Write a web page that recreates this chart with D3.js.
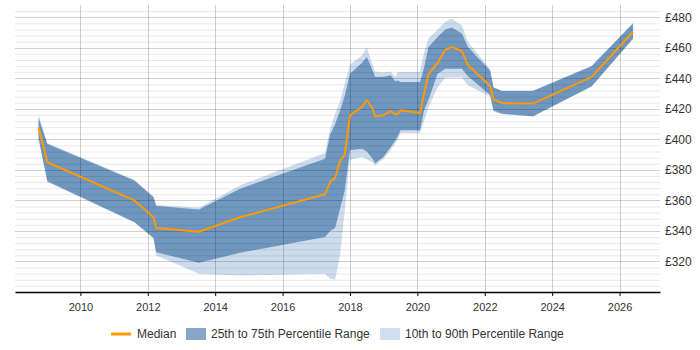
<!DOCTYPE html>
<html>
<head>
<meta charset="utf-8">
<script src="https://cdn.jsdelivr.net/npm/d3@7"></script>
<style>
  body { margin: 0; background: #fff; }
  text { font-family: "Liberation Sans", Arial, sans-serif; }
</style>
</head>
<body>
<div id="chart"></div>
<script>
// decimal years of each sample
const years = [2008.76, 2009.02, 2011.6, 2012.17, 2012.25, 2013.52, 2014.74, 2017.26, 2017.41, 2017.56,
  2017.71, 2017.84, 2018.0, 2018.35, 2018.5, 2018.65, 2018.75, 2018.99, 2019.21, 2019.34,
  2019.42, 2019.5, 2020.08, 2020.2, 2020.33, 2020.6, 2020.83, 2021.02, 2021.32, 2021.5,
  2022.16, 2022.26, 2022.51, 2023.43, 2025.17, 2026.4]
const p10 = [400, 372, 345.5, 335, 323.9, 311.9, 310.8, 312, 308.7, 308,
  325, 352, 386.7, 388.4, 387, 385, 383, 387, 393, 397,
  400, 404.1, 404.1, 412, 421, 434, 440.5, 440.5, 440.5, 435.4,
  428, 418, 416.5, 415, 434.5, 465.5]
const p25 = [400.5, 372.5, 345.8, 335.5, 326, 319.1, 325.7, 336, 340, 342,
  355, 366, 392.8, 393.9, 392, 388, 384.3, 388.5, 395, 399,
  402, 405.9, 405.9, 419, 426, 443, 446.3, 446.3, 446.3, 441.3,
  429, 419, 416.8, 415.1, 434.8, 466]
const median = [407.7, 385, 360, 349, 342, 339.5, 349, 364, 372, 374.9,
  386.2, 389.5, 415.7, 421.2, 425.6, 421.2, 415.1, 415.7, 418.6, 416.4,
  416.4, 419, 417.3, 430, 442.8, 450, 458.8, 460.5, 457.9, 448.5,
  435, 426, 423.8, 423.4, 440.9, 470.5]
const p75 = [414, 397, 373, 362, 356.3, 354.1, 367.7, 387.3, 403, 410,
  419, 428, 443, 450, 454, 446.3, 440.9, 441, 442, 438,
  438.5, 437.6, 437.6, 447, 460.5, 467, 472, 473.2, 469.3, 460.5,
  445, 433.9, 431.7, 431.7, 447.9, 475.9]
const p90 = [416, 397.6, 373.5, 362.5, 357, 355.2, 370, 391, 407, 417,
  425, 436, 449, 455, 460, 450, 444.5, 444, 444.5, 441,
  444, 444.1, 444.1, 457, 466, 472, 477, 479, 474.8, 464,
  446, 434, 432, 432, 448.2, 476.3]

const xTicks = [2010, 2012, 2014, 2016, 2018, 2020, 2022, 2024, 2026]
const yTicks = [320, 340, 360, 380, 400, 420, 440, 460, 480]
const legendLabels = ['Median', '25th to 75th Percentile Range', '10th to 90th Percentile Range']

const width = 700
const height = 350
const margin = { top: 5, right: 40, bottom: 58, left: 15 }

const rows = years.map((yr, i) => ({
  yr, p10: p10[i], p25: p25[i], med: median[i], p75: p75[i], p90: p90[i]
}))

const svg = d3.select('#chart')
  .append('svg')
  .attr('width', width)
  .attr('height', height)

const x = d3.scaleLinear()
  .domain([2008.06, 2027.2])
  .range([margin.left, width - margin.right])

const y = d3.scaleLinear()
  .domain([300, 488])
  .range([height - margin.bottom, margin.top])

const outer = d3.area()
  .x(d => x(d.yr))
  .y0(d => y(d.p10))
  .y1(d => y(d.p90))

const inner = d3.area()
  .x(d => x(d.yr))
  .y0(d => y(d.p25))
  .y1(d => y(d.p75))

const line = d3.line()
  .x(d => x(d.yr))
  .y(d => y(d.med))

svg.append('path')
  .datum(rows)
  .attr('d', outer)
  .attr('fill', '#cddcec')

svg.append('path')
  .datum(rows)
  .attr('d', inner)
  .attr('fill', '#7097c0')

// grid on top, translucent so it shows through the bands
const minor = d3.range(304, 488, 4).filter(v => v % 20 !== 0)
svg.append('g')
  .selectAll('line')
  .data(minor)
  .join('line')
  .attr('x1', margin.left)
  .attr('x2', width - margin.right)
  .attr('y1', d => y(d) + 0.5)
  .attr('y2', d => y(d) + 0.5)
  .attr('stroke', 'rgba(0,0,0,0.09)')

svg.append('g')
  .selectAll('line')
  .data(yTicks)
  .join('line')
  .attr('x1', margin.left)
  .attr('x2', width - margin.right)
  .attr('y1', d => Math.round(y(d)) + 0.5)
  .attr('y2', d => Math.round(y(d)) + 0.5)
  .attr('stroke', 'rgba(0,0,0,0.19)')

svg.append('g')
  .selectAll('line')
  .data(xTicks)
  .join('line')
  .attr('x1', d => Math.round(x(d)) + 0.5)
  .attr('x2', d => Math.round(x(d)) + 0.5)
  .attr('y1', margin.top)
  .attr('y2', height - margin.bottom)
  .attr('stroke', 'rgba(0,0,0,0.19)')

svg.append('path')
  .datum(rows)
  .attr('d', line)
  .attr('fill', 'none')
  .attr('stroke', '#ff9900')
  .attr('stroke-width', 2)
  .attr('stroke-linejoin', 'round')

const xAxis = svg.append('g')
  .attr('transform', `translate(0,${height - margin.bottom})`)
  .call(d3.axisBottom(x).tickValues(xTicks).tickFormat(d3.format('d')).tickSize(4).tickSizeOuter(0))
xAxis.select('.domain').attr('stroke', '#000').attr('stroke-width', 1.5)
xAxis.selectAll('.tick line').attr('stroke', '#000')
xAxis.selectAll('text').attr('font-size', 11).attr('fill', '#333').attr('dy', '1.1em')

const yAxis = svg.append('g')
  .attr('transform', `translate(${width - margin.right},0)`)
  .call(d3.axisRight(y).tickValues(yTicks).tickFormat(d => '£' + d).tickSize(0).tickPadding(5))
yAxis.select('.domain').remove()
yAxis.selectAll('text').attr('font-size', 12).attr('fill', '#333')

// legend
const legend = svg.append('g').attr('transform', 'translate(0,334)')
legend.append('line')
  .attr('x1', 111).attr('x2', 131)
  .attr('stroke', '#ff9900').attr('stroke-width', 3)
legend.append('text').attr('x', 137).attr('dy', '0.35em').attr('font-size', 12).attr('fill', '#333').text(legendLabels[0])
legend.append('rect').attr('x', 186).attr('y', -6).attr('width', 20).attr('height', 12).attr('fill', '#88a7c8')
legend.append('text').attr('x', 211).attr('dy', '0.35em').attr('font-size', 12).attr('fill', '#333').text(legendLabels[1])
legend.append('rect').attr('x', 380).attr('y', -6).attr('width', 20).attr('height', 12).attr('fill', '#d0dfee')
legend.append('text').attr('x', 405).attr('dy', '0.35em').attr('font-size', 12).attr('fill', '#333').text(legendLabels[2])
</script>
</body>
</html>
